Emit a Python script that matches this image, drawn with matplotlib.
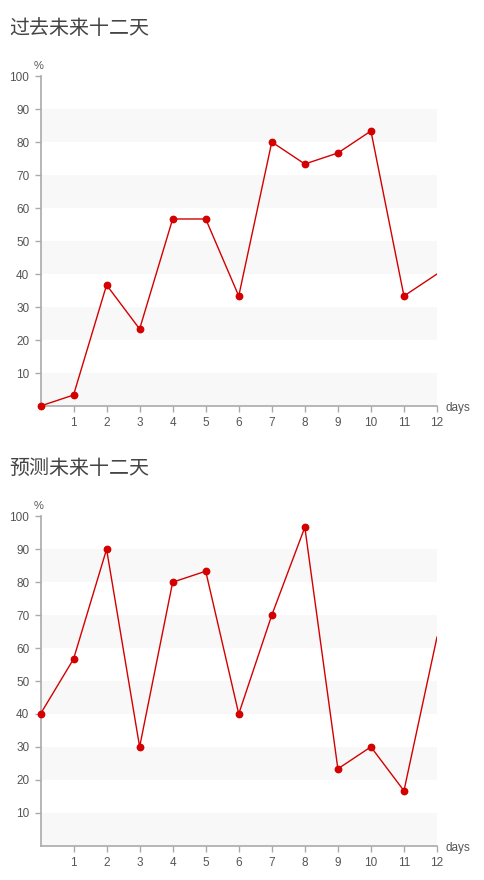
import matplotlib
matplotlib.use("Agg")
import matplotlib.pyplot as plt

plt.rcParams['font.family'] = ['Liberation Sans', 'DejaVu Sans']

days = list(range(13))
past = [0, 3.33, 36.67, 23.33, 56.67, 56.67, 33.33, 80, 73.33, 76.67, 83.33, 33.33, 40]
forecast = [40, 56.67, 90, 30, 80, 83.33, 40, 70, 96.67, 23.33, 30, 16.67, 63.33]
titles = ["过去未来十二天", "预测未来十二天"]
yticks = [10, 20, 30, 40, 50, 60, 70, 80, 90, 100]
xticks = list(range(1, 13))

RED = "#d40000"
AXIS = "#aaaaaa"
TEXT = "#555555"
BAND = "#f8f8f8"


def draw(ax, values):
    # alternating light bands every other 10 %
    for lo in range(0, 100, 20):
        ax.axhspan(lo, lo + 10, color=BAND, lw=0, zorder=0)
    ax.plot(days, values, color=RED, lw=1.0, zorder=3)
    ax.plot(days[:-1], values[:-1], 'o', color=RED, ms=4.6, zorder=4, clip_on=False)
    ax.set_xlim(0, 12)
    ax.set_ylim(0, 100)
    ax.set_xticks(xticks)
    ax.set_yticks(yticks)
    for s in ["top", "right"]:
        ax.spines[s].set_visible(False)
    for s in ["left", "bottom"]:
        ax.spines[s].set_color(AXIS)
        ax.spines[s].set_linewidth(1.2)
    ax.tick_params(colors=AXIS, labelcolor=TEXT, labelsize=8.5, length=4, width=1, pad=4)
    ax.text(-0.006, 1.015, "%", transform=ax.transAxes, ha="center", va="bottom",
            fontsize=8, color=TEXT)
    ax.text(1.022, -0.007, "days", transform=ax.transAxes, ha="left", va="center",
            fontsize=8.5, color=TEXT)


fig = plt.figure(figsize=(4.84, 8.8), dpi=100)
ax1 = fig.add_axes([40.5 / 484, 1 - 406 / 880, 396.5 / 484, 330 / 880])
ax2 = fig.add_axes([40.5 / 484, 1 - 845.7 / 880, 396.5 / 484, 329.4 / 880])
draw(ax1, past)
draw(ax2, forecast)

for title, ypx in zip(titles, [28, 468]):
    fig.text(9 / 484, 1 - ypx / 880, title, ha="left", va="center", fontsize=14.4,
             color="#444444", fontweight="light",
             family=['Noto Sans CJK SC', 'DejaVu Sans'])

fig.savefig("out.png", dpi=100)
